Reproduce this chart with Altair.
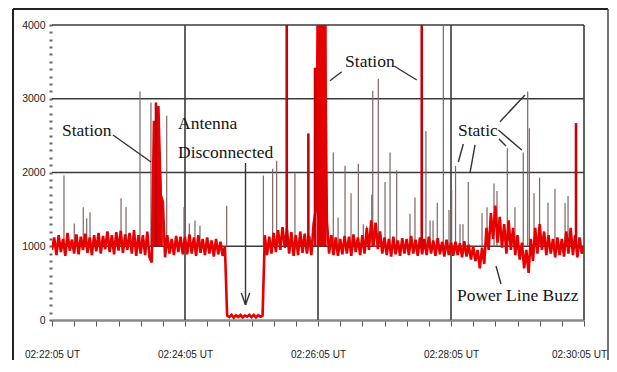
import altair as alt
import pandas as pd

# ---------------- data ----------------
# sample times (seconds after 02:22:05 UT), one every 2 s
t_trace = list(range(0, 481, 2))
# signal level (arbitrary units), read row by row (20 s per row)
trace = [
    950, 1120, 880, 1150, 920, 1100, 870, 1180, 940, 1090,
    900, 1160, 890, 1130, 950, 1170, 910, 1120, 880, 1150,
    930, 1180, 900, 1140, 960, 1200, 920, 1150, 890, 1190,
    940, 1210, 910, 1160, 950, 1180, 900, 1220, 870, 1150,
    900, 1150, 880, 1200, 850, 780, 2700, 1300, 2900, 1700,
    1600, 850, 1150, 900, 1100, 880, 1140, 920, 1130, 890,
    1130, 890, 1160, 900, 1120, 870, 1150, 910, 1100, 880,
    1120, 900, 1080, 860, 1100, 890, 1060, 870, 1000, 60,
    40, 70, 30, 65, 40, 70, 35, 60, 45, 70,
    40, 70, 35, 65, 45, 60, 1150, 880, 1130, 900,
    1180, 920, 1220, 950, 1260, 980, 1230, 900, 1190, 870,
    1150, 880, 1200, 910, 1170, 900, 1140, 880, 1300, 1500,
    4400, 4400, 2000, 4400, 1350, 900, 1150, 880, 1120, 870,
    1100, 890, 1140, 900, 1130, 870, 1160, 920, 1120, 880,
    1150, 900, 1250, 950, 1350, 1000, 1320, 960, 1200, 900,
    1120, 880, 1100, 860, 1130, 890, 1080, 870, 1110, 900,
    1100, 880, 1140, 900, 1090, 870, 1120, 890, 1100, 880,
    1130, 900, 1080, 870, 1110, 890, 1060, 860, 1090, 880,
    1050, 870, 1060, 880, 1040, 850, 1070, 860, 1020, 820,
    1000, 800, 950, 700, 980, 760, 1250, 950, 1450, 1100,
    1550, 1050, 1400, 980, 1300, 900, 1350, 950, 1250, 880,
    1150, 820, 1050, 700, 950, 640, 1100, 800, 1250, 900,
    1300, 950, 1200, 880, 1150, 900, 1100, 850, 1120, 880,
    1100, 860, 1200, 900, 1250, 880, 1150, 850, 1120, 900,
    1000,
]

# station carriers (solid filled bursts)
station_t = [91, 92, 93, 94, 95, 96, 97, 98, 99, 100,
             238.8, 240, 242, 244, 246, 247.8]
station_v = [1500, 2600, 2400, 2900, 2700, 2850, 2500, 2200, 1800, 1300,
             4400, 4400, 4400, 4400, 4400, 4400]
station_id = ["a"] * 10 + ["b"] * 6

# thin static / station spikes
spike_t = [10.8, 20.1, 28.2, 31.3, 34.3, 62.3, 66.8, 79.4, 89.3, 103.5,
           119.1, 123.9, 129.0, 133.5, 157.6, 190.7, 199.1, 202.7, 219.2, 253.8,
           258.1, 264.4, 269.8, 276.4, 280.9, 283.9, 288.5, 289.4, 294.4, 300.5,
           305.0, 311.0, 323.0, 327.5, 337.4, 341.1, 343.8, 347.6, 353.1, 358.2,
           360.6, 364.1, 368.1, 370.8, 375.6, 388.0, 392.5, 398.8, 401.5, 410.8,
           417.7, 425.2, 429.2, 430.7, 434.9, 439.9, 447.5, 453.8, 462.9, 465.6]
spike_v = [1960, 1310, 1530, 1380, 1460, 1650, 1530, 3100, 2950, 2770,
           1530, 1310, 1350, 1280, 1550, 1960, 2050, 2160, 1990, 2270,
           1390, 2090, 1720, 2120, 1300, 1270, 1700, 3110, 3270, 1870,
           2270, 2030, 1440, 1660, 2560, 1350, 1350, 1590, 4400, 1490,
           1760, 2090, 1300, 1300, 1870, 1450, 1530, 1850, 1750, 2330,
           1530, 2270, 3100, 2600, 1720, 1930, 1590, 1780, 1590, 1680]
# strong red spikes
red_spike_t = [93.8, 211.8, 231.3, 237.3, 333.6, 472.8]
red_spike_v = [2950, 4400, 2530, 3420, 4400, 2670]
spike_base = 1000

# axes
x_tick_t = list(range(0, 481, 20))
x_label_t = [0, 120, 240, 360, 480]
x_labels = ["02:22:05 UT", "02:24:05 UT", "02:26:05 UT", "02:28:05 UT", "02:30:05 UT"]
y_tick_v = list(range(0, 4001, 100))
y_grid_v = [1000, 2000, 3000, 4000]
x_grid_t = [120, 240, 360, 480]

# annotations
ann_text = ["Station", "Antenna", "Disconnected", "Station", "Static", "Power Line Buzz"]
ann_t = [9.0, 113.7, 113.7, 264.4, 366.3, 365.4]
ann_v = [2563, 2658, 2264, 3498, 2563, 325]
seg_t1 = [55.0, 250.8, 308.6, 404.2, 402.7, 403.3, 371.1, 381.7, 400.6, 174.6, 170.8, 178.4]
seg_v1 = [2508, 3245, 3444, 2689, 2576, 2454, 2386, 2373, 732, 2129, 366, 366]
seg_t2 = [89.3, 261.4, 329.1, 426.8, 423.8, 409.6, 366.6, 377.1, 405.1, 174.6, 174.6, 174.6]
seg_v2 = [2142, 3367, 3254, 3051, 2305, 2359, 2142, 1993, 488, 203, 203, 203]

# ---------------- chart ----------------
trace_df = pd.DataFrame({"t": t_trace, "v": trace})
station_df = pd.DataFrame({"t": station_t, "v": station_v, "id": station_id})
spike_df = pd.DataFrame({"t": spike_t, "v": spike_v})
red_df = pd.DataFrame({"t": red_spike_t, "v": red_spike_v})
ann_df = pd.DataFrame({"t": ann_t, "v": ann_v, "text": ann_text})
seg_df = pd.DataFrame({"t": seg_t1, "v": seg_v1, "t2": seg_t2, "v2": seg_v2})
xg_df = pd.DataFrame({"t": x_grid_t})
yg_df = pd.DataFrame({"v": y_grid_v})

label_expr = "".join(f"datum.value == {t} ? '{lab}' : " for t, lab in zip(x_label_t, x_labels)) + "''"

xs = alt.Scale(domain=[0, 480], nice=False, zero=False)
ys = alt.Scale(domain=[0, 4000], nice=False)
x_axis = alt.Axis(values=x_tick_t, labelExpr=label_expr, title=None, grid=False,
                  tickSize=6, tickColor="#555", tickWidth=1,
                  domainColor="#8a8a8a", domainWidth=2.5,
                  labelFont="Liberation Sans", labelFontSize=10, labelColor="#222",
                  labelPadding=23, labelOverlap=False, labelFlush=False,
                  labelOffset={"condition": {"test": f"datum.value == {x_label_t[-1]}", "value": -5},
                               "value": 0})
y_axis = alt.Axis(values=y_tick_v, labelExpr="datum.value % 1000 == 0 ? datum.label : ''",
                  format="d", title=None, grid=False, domain=False,
                  tickSize=3, tickWidth=2, tickColor="#666",
                  labelFont="Liberation Sans", labelFontSize=10.5, labelColor="#222",
                  labelPadding=4)

X = lambda f="t": alt.X(f"{f}:Q", scale=xs, axis=x_axis)
Y = lambda f="v": alt.Y(f"{f}:Q", scale=ys, axis=y_axis)

vgrid = alt.Chart(xg_df).mark_rule(color="#3a3a3a", strokeWidth=1.6).encode(x=X())
hgrid = alt.Chart(yg_df).mark_rule(color="#3a3a3a", strokeWidth=1.6).encode(y=Y())
spikes = alt.Chart(spike_df).mark_rule(color="#7f6464", strokeWidth=1.2, clip=True).encode(
    x=X(), y=Y(), y2=alt.datum(spike_base))
stations = alt.Chart(station_df).mark_area(color="#e00000", clip=True).encode(
    x=X(), y=Y(), y2=alt.datum(spike_base), detail="id:N")
line = alt.Chart(trace_df).mark_line(color="#e60000", strokeWidth=2.6, clip=True,
                                     strokeJoin="miter").encode(x=X(), y=Y())
red_spikes = alt.Chart(red_df).mark_rule(color="#c8000a", strokeWidth=2.6, clip=True).encode(
    x=X(), y=Y(), y2=alt.datum(spike_base))
segs = alt.Chart(seg_df).mark_rule(color="#333333", strokeWidth=1.4).encode(
    x=X(), y=Y(), x2="t2:Q", y2="v2:Q")
texts = alt.Chart(ann_df).mark_text(font="Liberation Serif", fontSize=17.5, color="#151515",
                                    align="left", baseline="middle").encode(
    x=X(), y=Y(), text="text:N")

frame_src = alt.Data(values=[{}])
frame_top = alt.Chart(frame_src).mark_rule(color="#222", strokeWidth=2).encode(
    x=alt.value(-39), x2=alt.value(556), y=alt.value(-16))
frame_left = alt.Chart(frame_src).mark_rule(color="#222", strokeWidth=2).encode(
    x=alt.value(-39), y=alt.value(-16), y2=alt.value(345))
frame_right = alt.Chart(frame_src).mark_rule(color="#444", strokeWidth=1.5).encode(
    x=alt.value(556), y=alt.value(-16), y2=alt.value(345))

chart = alt.layer(
    vgrid, hgrid, spikes, stations, line, red_spikes, segs, texts,
    frame_top, frame_left, frame_right
).properties(
    width=532, height=295,
    autosize=alt.AutoSizeParams(type="none"),
    padding={"left": 44, "top": 17, "right": 25, "bottom": 40},
    background="white",
).configure_view(stroke=None)

chart.save("out.html", embed_options={"renderer": "svg", "actions": False})
